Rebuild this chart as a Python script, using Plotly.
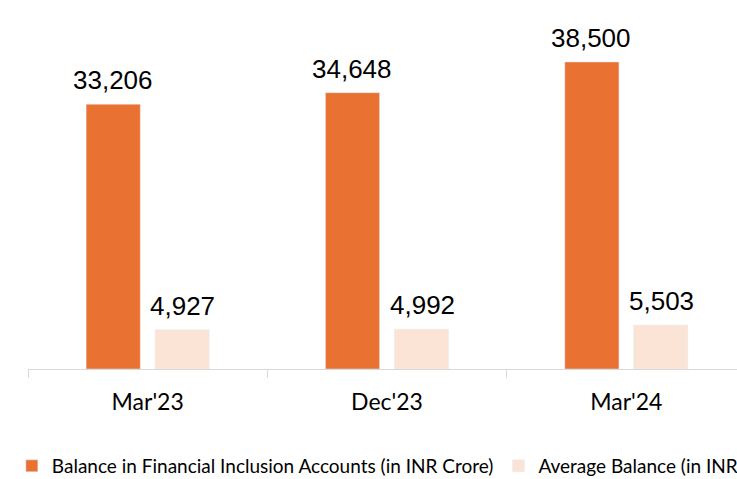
import plotly.graph_objects as go

categories = ["Mar'23", "Dec'23", "Mar'24"]
balance_fi = [33206, 34648, 38500]
avg_balance = [4927, 4992, 5503]
series_names = ["Balance in Financial Inclusion Accounts (in INR Crore)", "Average Balance (in INR)"]

ORANGE = "#E97132"
PEACH = "#FBE3D6"

fig = go.Figure()
fig.add_trace(go.Bar(x=categories, y=balance_fi, name=series_names[0], marker_color=ORANGE))
fig.add_trace(go.Bar(x=categories, y=avg_balance, name=series_names[1], marker_color=PEACH))

for vals, xs in ((balance_fi, -35), (avg_balance, 35)):
    for c, v in zip(categories, vals):
        fig.add_annotation(x=c, y=v, text=f"{v:,}", showarrow=False, xshift=xs, yshift=7,
                           yanchor="bottom", font=dict(family="Liberation Sans, Arial", size=26, color="#000000"))

W, H = 840, 500
fig.update_layout(
    width=W, height=H,
    margin=dict(l=17, r=W - 17 - 729, t=50, b=H - 50 - 319),
    plot_bgcolor="white", paper_bgcolor="white",
    barmode="group", bargap=0.424, bargroupgap=0.214,
    showlegend=True,
    legend=dict(orientation="h", x=-0.0225, xanchor="left", y=-0.304, yanchor="middle",
                font=dict(family="Lato, Carlito, sans-serif", size=19, color="#000000"),
                itemwidth=30, traceorder="normal"),
    xaxis=dict(type="category", tickson="boundaries", ticks="outside", ticklen=8, tickcolor="#D9D9D9",
               showline=True, linecolor="#D9D9D9", linewidth=1,
               tickfont=dict(family="Lato, Carlito, sans-serif", size=23, color="#000000"), ticklabelstandoff=12),
    yaxis=dict(range=[0, 40000], visible=False, showgrid=False, zeroline=False),
)

fig.write_html("out.html", config={"displayModeBar": False},
               post_script="document.body.style.overflow='hidden';document.body.style.margin='0';")
